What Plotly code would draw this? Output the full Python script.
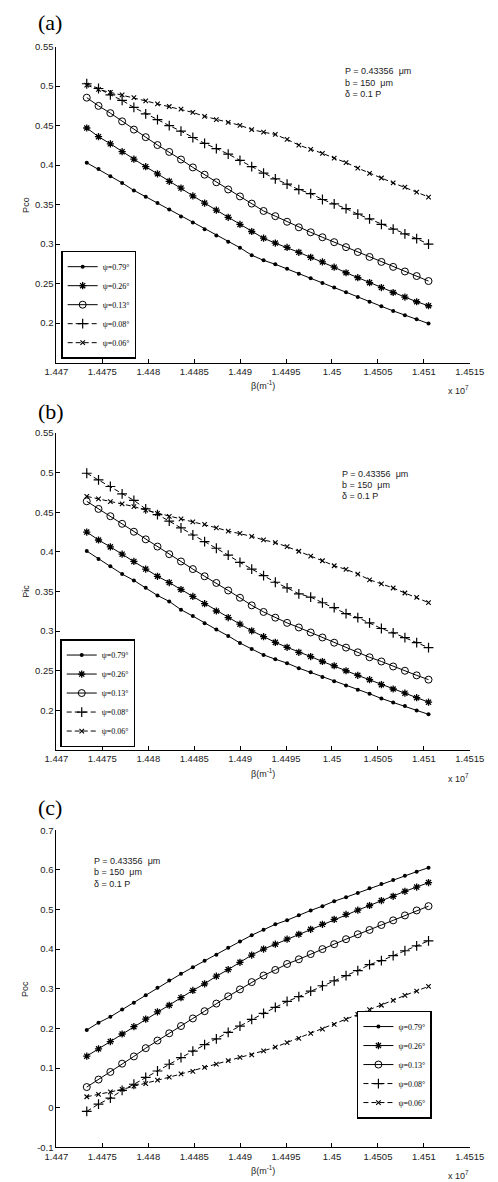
import plotly.graph_objects as go

# ---------------- data ----------------
beta = [1.447330, 1.447458, 1.447587, 1.447715, 1.447843, 1.447972, 1.448100, 1.448228,
        1.448356, 1.448485, 1.448613, 1.448741, 1.448870, 1.448998, 1.449126, 1.449255,
        1.449383, 1.449511, 1.449639, 1.449768, 1.449896, 1.450024, 1.450153, 1.450281,
        1.450409, 1.450538, 1.450666, 1.450794, 1.450922, 1.451051]

psi_labels = ["ψ=0.79°", "ψ=0.26°", "ψ=0.13°", "ψ=0.08°", "ψ=0.06°"]

# (a) Pco
pco_079 = [0.403, 0.395, 0.386, 0.3775, 0.368, 0.360, 0.352, 0.344, 0.335, 0.3275, 0.319, 0.311,
           0.303, 0.2955, 0.286, 0.2795, 0.2745, 0.2688, 0.2625, 0.2567, 0.2508, 0.245, 0.2392,
           0.233, 0.227, 0.2213, 0.2155, 0.210, 0.2048, 0.1995]
pco_026 = [0.447, 0.436, 0.427, 0.417, 0.4075, 0.398, 0.389, 0.3795, 0.371, 0.361, 0.352, 0.343,
           0.334, 0.325, 0.316, 0.3075, 0.3013, 0.2958, 0.2896, 0.2833, 0.2775, 0.2708, 0.2638,
           0.2575, 0.2513, 0.245, 0.2388, 0.233, 0.2271, 0.222]
pco_013 = [0.4854, 0.475, 0.4658, 0.4554, 0.445, 0.4354, 0.4254, 0.4167, 0.4071, 0.3971, 0.3879,
           0.3783, 0.3692, 0.3604, 0.3513, 0.342, 0.3354, 0.3283, 0.3213, 0.315, 0.3087, 0.3025,
           0.2962, 0.29, 0.2838, 0.2775, 0.2712, 0.2654, 0.2596, 0.2533]
pco_008 = [0.503, 0.497, 0.489, 0.482, 0.473, 0.465, 0.4575, 0.450, 0.443, 0.435, 0.4275, 0.421,
           0.414, 0.406, 0.398, 0.390, 0.3825, 0.376, 0.369, 0.364, 0.3565, 0.351, 0.345, 0.338,
           0.332, 0.325, 0.319, 0.313, 0.307, 0.300]
pco_006 = [0.5012, 0.4958, 0.4921, 0.4888, 0.4854, 0.4813, 0.4775, 0.4742, 0.4708, 0.4667, 0.4617,
           0.4575, 0.4542, 0.4504, 0.445, 0.4417, 0.4388, 0.4325, 0.4254, 0.42, 0.415, 0.4088,
           0.4033, 0.3962, 0.3896, 0.3837, 0.3775, 0.3721, 0.3658, 0.3596]

# (b) Pic
pic_079 = [0.401, 0.391, 0.382, 0.372, 0.364, 0.3546, 0.345, 0.3375, 0.327, 0.319, 0.310, 0.302,
           0.294, 0.285, 0.2775, 0.270, 0.2646, 0.2596, 0.2533, 0.248, 0.242, 0.2367, 0.2313,
           0.226, 0.221, 0.215, 0.210, 0.2054, 0.200, 0.195]
pic_026 = [0.425, 0.415, 0.4063, 0.3971, 0.3879, 0.3783, 0.3692, 0.3613, 0.3525, 0.3438, 0.3346,
           0.3254, 0.3171, 0.3088, 0.3004, 0.293, 0.2858, 0.2796, 0.2733, 0.2679, 0.2617, 0.2563,
           0.25, 0.2442, 0.2387, 0.2325, 0.227, 0.2217, 0.216, 0.2104]
pic_013 = [0.4638, 0.4542, 0.445, 0.4354, 0.4254, 0.4158, 0.4067, 0.3971, 0.3879, 0.3783, 0.3692,
           0.3608, 0.3513, 0.3421, 0.3325, 0.3242, 0.317, 0.3104, 0.3046, 0.2983, 0.292, 0.2854,
           0.2792, 0.2733, 0.267, 0.2617, 0.2554, 0.25, 0.2442, 0.2388]
pic_008 = [0.4992, 0.4908, 0.4825, 0.4733, 0.465, 0.4542, 0.4471, 0.4388, 0.4304, 0.4213, 0.4129,
           0.4046, 0.3958, 0.3867, 0.3783, 0.37, 0.3617, 0.3546, 0.3471, 0.3429, 0.3358, 0.3296,
           0.3221, 0.3171, 0.3104, 0.3033, 0.2979, 0.2917, 0.2854, 0.2792]
pic_006 = [0.47, 0.467, 0.4635, 0.4605, 0.4572, 0.4527, 0.4487, 0.4447, 0.4415, 0.4379, 0.4346,
           0.4304, 0.4263, 0.4233, 0.4196, 0.415, 0.4117, 0.4065, 0.4008, 0.3946, 0.3888, 0.3825,
           0.3779, 0.372, 0.3648, 0.3596, 0.3544, 0.3481, 0.3425, 0.336]

# (c) Poc
poc_079 = [0.196, 0.2143, 0.2293, 0.2476, 0.265, 0.2834, 0.3026, 0.3209, 0.3376, 0.3542, 0.3709,
           0.3859, 0.4034, 0.4193, 0.4351, 0.449, 0.4626, 0.473, 0.4855, 0.4976, 0.5085, 0.521,
           0.531, 0.5418, 0.5534, 0.5643, 0.5745, 0.5851, 0.5955, 0.6055]
poc_026 = [0.130, 0.1484, 0.1668, 0.1859, 0.2043, 0.2234, 0.2418, 0.2584, 0.2776, 0.2959, 0.3126,
           0.3317, 0.3484, 0.3667, 0.3851, 0.4001, 0.4126, 0.4251, 0.4376, 0.4501, 0.4626, 0.4751,
           0.4876, 0.4984, 0.5101, 0.5226, 0.5334, 0.5459, 0.5567, 0.568]
poc_013 = [0.052, 0.0709, 0.0901, 0.111, 0.1293, 0.1501, 0.1693, 0.1876, 0.206, 0.2251, 0.2434,
           0.2626, 0.2809, 0.2984, 0.3168, 0.3334, 0.3476, 0.3626, 0.3743, 0.3876, 0.4001, 0.4126,
           0.4251, 0.4376, 0.4484, 0.4609, 0.4726, 0.4851, 0.4976, 0.5085]
poc_008 = [-0.0095, 0.009, 0.024, 0.0438, 0.059, 0.0763, 0.0925, 0.1095, 0.126, 0.1425, 0.159,
           0.1734, 0.19, 0.2059, 0.2226, 0.238, 0.253, 0.268, 0.280, 0.294, 0.3076, 0.320, 0.3334,
           0.3459, 0.3609, 0.3709, 0.3834, 0.3959, 0.4084, 0.4209]
poc_006 = [0.0275, 0.0334, 0.04, 0.0459, 0.0542, 0.0609, 0.0692, 0.0768, 0.0851, 0.0917, 0.1018,
           0.1101, 0.1184, 0.1268, 0.1334, 0.1434, 0.1526, 0.1642, 0.1751, 0.1876, 0.1984, 0.2101,
           0.2226, 0.2351, 0.2476, 0.2584, 0.2709, 0.2834, 0.2943, 0.306]

x_tick_vals = [1.447, 1.4475, 1.448, 1.4485, 1.449, 1.4495, 1.45, 1.4505, 1.451, 1.4515]
x_tick_text = ["1.447", "1.4475", "1.448", "1.4485", "1.449", "1.4495", "1.45", "1.4505", "1.451", "1.4515"]
y_tick_vals_ab = [0.2, 0.25, 0.3, 0.35, 0.4, 0.45, 0.5, 0.55]
y_tick_text_ab = ["0.2", "0.25", "0.3", "0.35", "0.4", "0.45", "0.5", "0.55"]
y_tick_vals_c = [-0.1, 0, 0.1, 0.2, 0.3, 0.4, 0.5, 0.6, 0.7]
y_tick_text_c = ["-0.1", "0", "0.1", "0.2", "0.3", "0.4", "0.5", "0.6", "0.7"]

panel_titles = ["(a)", "(b)", "(c)"]
y_titles = ["Pco", "Pic", "Poc"]
param_lines = ["P = 0.43356\u00a0\u00a0μm", "b = 150\u00a0\u00a0μm", "δ = 0.1 P"]

# ---------------- styles ----------------
W, H = 498, 1182
X0, X1 = 47, 484
panel_px = [(41, 360), (431, 751), (832, 1152)]  # top, bottom pixel of plot areas

marker_styles = [
    dict(symbol="circle", size=4, color="black"),
    dict(symbol="asterisk-open", size=6, color="black", line=dict(width=1.3, color="black")),
    dict(symbol="circle-open", size=7, color="black", line=dict(width=1, color="black")),
    dict(symbol="cross-thin-open", size=7, color="black", line=dict(width=1.2, color="black")),
    dict(symbol="x-thin-open", size=4.5, color="black", line=dict(width=1.1, color="black")),
]
line_dashes = ["solid", "solid", "solid", "5px,3px", "5px,3px"]

TICK_FONT = dict(family="Liberation Sans, Arial", size=9.5, color="#222")
TXT_FONT = dict(family="Liberation Sans, Arial", size=9, color="#222")

def py(p):
    return 1 - p / H

def px(p):
    return p / W

fig = go.Figure()

series_sets = [
    [pco_079, pco_026, pco_013, pco_008, pco_006],
    [pic_079, pic_026, pic_013, pic_008, pic_006],
    [poc_079, poc_026, poc_013, poc_008, poc_006],
]
legend_names = ["legend", "legend2", "legend3"]

for k, sset in enumerate(series_sets):
    ax = "" if k == 0 else str(k + 1)
    for j, ys in enumerate(sset):
        fig.add_trace(go.Scatter(
            x=beta, y=ys, mode="lines+markers", name=psi_labels[j],
            line=dict(color="black", width=1, dash=line_dashes[j]),
            marker=marker_styles[j],
            xaxis="x" + ax, yaxis="y" + ax,
            legend=legend_names[k],
        ))

layout = dict(
    width=W, height=H, autosize=False,
    margin=dict(l=0, r=0, t=0, b=0),
    paper_bgcolor="white", plot_bgcolor="white",
    font=TXT_FONT,
)

for k in range(3):
    ax = "" if k == 0 else str(k + 1)
    top, bot = panel_px[k]
    layout["xaxis" + ax] = dict(
        domain=[px(X0), px(X1)], anchor="y" + ax,
        range=[1.447, 1.4515], tickvals=x_tick_vals, ticktext=x_tick_text,
        ticks="inside", ticklen=4, tickwidth=1, tickcolor="black",
        showline=True, linecolor="black", linewidth=1,
        showgrid=False, zeroline=False, tickfont=TICK_FONT,
        ticklabeloverflow="allow",
    )
    if k < 2:
        yr, tv, tt = [0.15, 0.55], y_tick_vals_ab, y_tick_text_ab
    else:
        yr, tv, tt = [-0.1, 0.7], y_tick_vals_c, y_tick_text_c
    layout["yaxis" + ax] = dict(
        domain=[py(bot), py(top)], anchor="x" + ax,
        range=yr, tickvals=tv, ticktext=tt,
        ticks="inside", ticklen=4, tickwidth=1, tickcolor="black",
        showline=True, linecolor="black", linewidth=1,
        showgrid=False, zeroline=False, tickfont=TICK_FONT,
        ticklabeloverflow="allow",
    )

legend_common = dict(
    bgcolor="white", bordercolor="black", borderwidth=1.5,
    font=dict(family="Liberation Serif, Times New Roman", size=8, color="black"),
    tracegroupgap=0, itemwidth=30,
)
layout["legend"] = dict(legend_common, x=px(52), y=py(356), xanchor="left", yanchor="bottom")
layout["legend2"] = dict(legend_common, x=px(51), y=py(748), xanchor="left", yanchor="bottom")
layout["legend3"] = dict(legend_common, x=px(444), y=py(1123), xanchor="right", yanchor="bottom")

annotations = []
panel_label_y = [17, 409, 809]
param_pos = [(350, 66), (347, 472), (85, 863)]
for k in range(3):
    top, bot = panel_px[k]
    annotations.append(dict(
        text=panel_titles[k], x=px(25), y=py(panel_label_y[k]), xref="paper", yref="paper",
        xanchor="left", yanchor="middle", showarrow=False,
        font=dict(family="Liberation Serif, Times New Roman", size=22, color="black")))
    annotations.append(dict(
        text=y_titles[k], x=px(14), y=py((top + bot) / 2), xref="paper", yref="paper",
        xanchor="center", yanchor="middle", showarrow=False, textangle=-90, font=TXT_FONT))
    annotations.append(dict(
        text="β(m<sup>-1</sup>)", x=px((X0 + X1) / 2), y=py(bot + 23), xref="paper", yref="paper",
        xanchor="center", yanchor="middle", showarrow=False, font=TXT_FONT))
    annotations.append(dict(
        text="x 10<sup>7</sup>", x=px(472), y=py(bot + 28), xref="paper", yref="paper",
        xanchor="center", yanchor="middle", showarrow=False, font=TXT_FONT))
    pxx, pyy = param_pos[k]
    for i, line in enumerate(param_lines):
        annotations.append(dict(
            text=line, x=px(pxx), y=py(pyy + 11.5 * i), xref="paper", yref="paper",
            xanchor="left", yanchor="middle", showarrow=False, font=TXT_FONT))

layout["annotations"] = annotations
fig.update_layout(**layout)
fig.write_html("out.html",
               config={"displayModeBar": False},
               post_script="document.body.style.margin='0px';document.body.style.overflow='hidden';")
